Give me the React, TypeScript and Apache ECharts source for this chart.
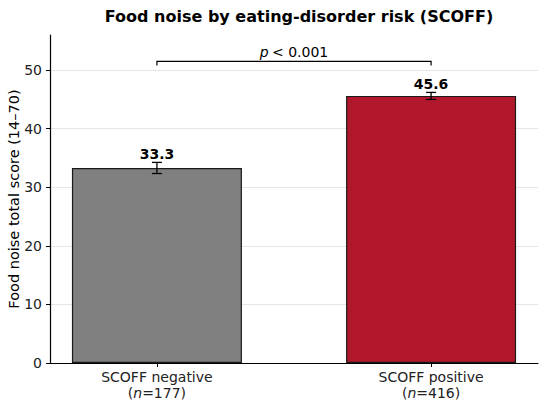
import React, { useEffect, useRef } from "react";
import * as echarts from "echarts";

const categories = ["SCOFF negative", "SCOFF positive"];
const sampleSizes = [177, 416];
const means = [33.3, 45.6];
const errors = [0.95, 0.6];
const barColors = ["#808080", "#b2182b"];
const yTicks = [0, 10, 20, 30, 40, 50];
const bracket = { from: 0, to: 1, top: 51.5, foot: 50.8, text: "< 0.001" };

const FONT = "DejaVu Sans";

export default function App() {
  const ref = useRef<HTMLDivElement>(null);
  useEffect(() => {
    document.body.style.margin = "0";
    const chart = echarts.init(ref.current!, null, { renderer: "svg" });
    const option: any = {
      animation: false,
      textStyle: { fontFamily: FONT },
      title: {
        text: "Food noise by eating-disorder risk (SCOFF)",
        left: 294,
        textAlign: "center",
        top: 3,
        textStyle: { fontFamily: FONT, fontWeight: "bold", fontSize: 16, color: "#000" },
      },
      grid: { left: 50, right: 12, top: 35, bottom: 45, outerBoundsMode: "none", containLabel: false },
      xAxis: {
        type: "value",
        min: -0.39,
        max: 1.39,
        splitLine: { show: false },
        axisLine: { onZero: false, lineStyle: { color: "#000", width: 1.2 } },
        axisTick: { customValues: [0, 1], length: 4, lineStyle: { color: "#000" } },
        axisLabel: {
          customValues: [0, 1],
          margin: 6,
          formatter: (v: number) => {
            const i = Math.round(v);
            return `{a|${categories[i]}}\n{b|(}{i|n}{b|=${sampleSizes[i]})}`;
          },
          rich: {
            a: { fontFamily: FONT, fontSize: 14, color: "#222", lineHeight: 16 },
            b: { fontFamily: FONT, fontSize: 14, color: "#222", lineHeight: 16 },
            i: { fontFamily: FONT, fontSize: 14, color: "#222", fontStyle: "italic", lineHeight: 16 },
          },
        },
      },
      yAxis: {
        type: "value",
        min: 0,
        max: 56,
        interval: 10,
        name: "Food noise total score (14–70)",
        nameLocation: "middle",
        nameGap: 29,
        nameMoveOverlap: false,
        nameTextStyle: { fontFamily: FONT, fontSize: 14.5, color: "#000" },
        axisLine: { show: true, onZero: false, lineStyle: { color: "#000", width: 1.2 } },
        axisTick: { show: true, length: 4, lineStyle: { color: "#000" } },
        axisLabel: {
          fontFamily: FONT,
          fontSize: 14,
          color: "#222",
          margin: 8,
          showMaxLabel: false,
          formatter: (v: number) => (yTicks.includes(v) ? String(v) : ""),
        },
        splitLine: { show: true, showMinLine: false, showMaxLine: false, lineStyle: { color: "#e6e6e6", width: 1 } },
      },
      series: [
        {
          type: "bar",
          barWidth: 170,
          data: means.map((m, i) => ({
            value: [i, m],
            itemStyle: { color: barColors[i], borderColor: "#1a1a1a", borderWidth: 1.2 },
          })),
        },
        {
          type: "custom",
          clip: false,
          z: 10,
          data: means.map((m, i) => [i, m, errors[i]]),
          renderItem: (params: any, api: any) => {
            const x = api.value(0);
            const m = api.value(1);
            const e = api.value(2);
            const top = api.coord([x, m + e]);
            const bot = api.coord([x, m - e]);
            const cap = 5;
            const ls = { stroke: "#000", lineWidth: 1.3 };
            return {
              type: "group",
              children: [
                { type: "line", shape: { x1: top[0], y1: top[1], x2: bot[0], y2: bot[1] }, style: ls },
                { type: "line", shape: { x1: top[0] - cap, y1: top[1], x2: top[0] + cap, y2: top[1] }, style: ls },
                { type: "line", shape: { x1: bot[0] - cap, y1: bot[1], x2: bot[0] + cap, y2: bot[1] }, style: ls },
                {
                  type: "text",
                  x: top[0],
                  y: top[1] - 1,
                  style: {
                    text: m.toFixed(1),
                    fontFamily: FONT,
                    fontWeight: "bold",
                    fontSize: 14,
                    fill: "#000",
                    align: "center",
                    verticalAlign: "bottom",
                  },
                },
              ],
            };
          },
        },
        {
          type: "custom",
          clip: false,
          z: 10,
          data: [[bracket.from, bracket.to, bracket.top, bracket.foot]],
          renderItem: (params: any, api: any) => {
            const a = api.coord([api.value(0), api.value(2)]);
            const b = api.coord([api.value(1), api.value(2)]);
            const af = api.coord([api.value(0), api.value(3)]);
            const bf = api.coord([api.value(1), api.value(3)]);
            return {
              type: "group",
              children: [
                {
                  type: "polyline",
                  shape: { points: [af, a, b, bf] },
                  style: { stroke: "#000", lineWidth: 1.2, fill: "none" },
                },
                {
                  type: "text",
                  x: (a[0] + b[0]) / 2,
                  y: a[1] - 2,
                  style: {
                    text: `{i|p} {n|${bracket.text}}`,
                    align: "center",
                    verticalAlign: "bottom",
                    rich: {
                      i: { fontFamily: FONT, fontSize: 14, fontStyle: "italic", fill: "#000" },
                      n: { fontFamily: FONT, fontSize: 14, fill: "#000" },
                    },
                  },
                },
              ],
            };
          },
        },
      ],
    };
    chart.setOption(option);
    return () => chart.dispose();
  }, []);
  return <div ref={ref} style={{ width: 550, height: 408 }} />;
}
